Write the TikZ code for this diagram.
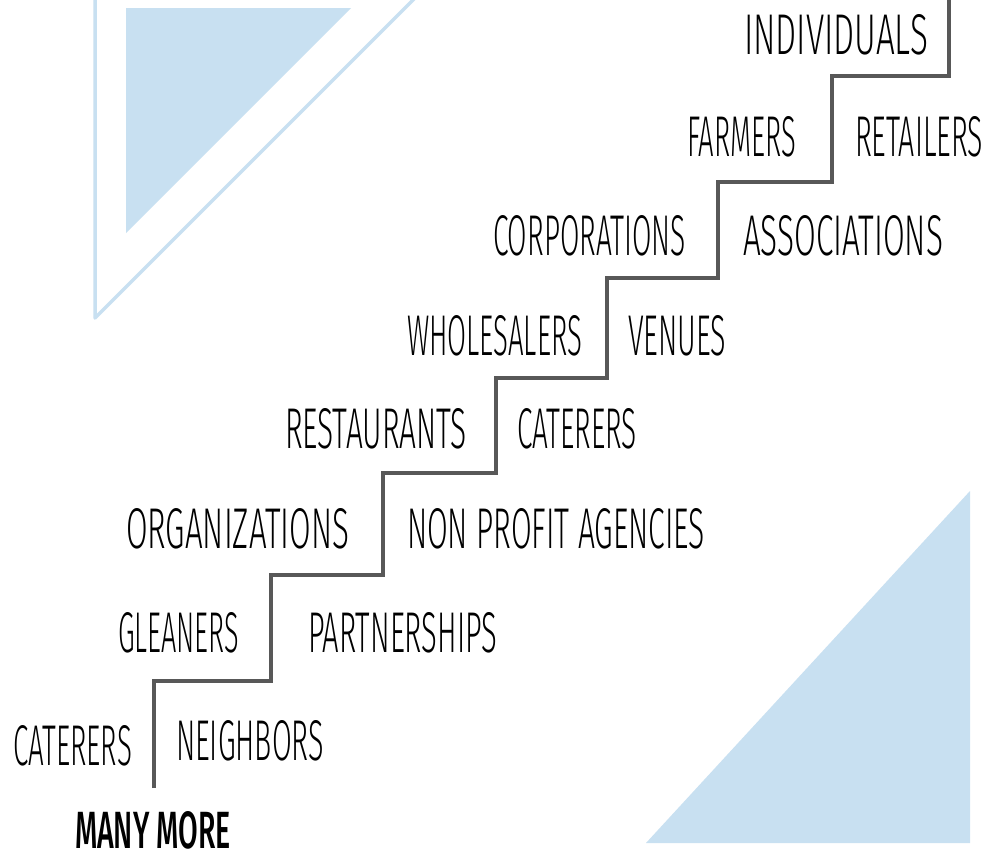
\documentclass[tikz,border=0pt]{standalone}
\usepackage{fontspec}
\setmainfont{Fira Sans Light}[BoldFont={Fira Sans Medium}]
\usepackage{graphicx}
\definecolor{lblue}{RGB}{200,224,241}
\definecolor{stairgray}{RGB}{88,88,88}
\newcommand\lbl[2]{\resizebox{#1pt}{40pt}{#2}}
\begin{document}
\begin{tikzpicture}[x=1pt,y=-1pt,
  word/.style={anchor=base west,inner sep=0pt,outer sep=0pt,text=black},
  stair/.style={draw=stairgray,line width=4.5pt,line join=miter},
  tri/.style={fill=lblue,draw=none},
  trioutline/.style={draw=lblue,line width=3.5pt,line join=round}]
\useasboundingbox (0,0) rectangle (989,862);
\clip (0,0) rectangle (989,862);
\fill[white] (0,0) rectangle (989,862);
% decorative triangles
\draw[trioutline] (95,-10) -- (95,318) -- (423,-10);
\path[tri] (126,8) -- (351,8) -- (126,233) -- cycle;
\path[tri] (970,491) -- (970,843) -- (646,843) -- cycle;
% staircase
\coordinate (s0) at (154,788);
\coordinate (s1) at (271,681);
\coordinate (s2) at (383,575);
\coordinate (s3) at (496,473);
\coordinate (s4) at (607,378);
\coordinate (s5) at (718,278);
\coordinate (s6) at (832,182);
\coordinate (s7) at (949,76);
\coordinate (s8) at (949,-5);
\draw[stair] (s0) |- (s1) |- (s2) |- (s3) |- (s4) |- (s5) |- (s6) |- (s7) -- (s8);
% labels
\node[word] (individuals) at (744,54) {\lbl{184}{INDIVIDUALS}};
\node[word] (farmers) at (687,156) {\lbl{109}{FARMERS}};
\node[word] (retailers) at (855,156) {\lbl{128}{RETAILERS}};
\node[word] (corporations) at (493,255) {\lbl{193}{CORPORATIONS}};
\node[word] (associations) at (743,255) {\lbl{200}{ASSOCIATIONS}};
\node[word] (wholesalers) at (407,355) {\lbl{175}{WHOLESALERS}};
\node[word] (venues) at (628,355) {\lbl{98}{VENUES}};
\node[word] (restaurants) at (285,448) {\lbl{182}{RESTAURANTS}};
\node[word] (caterersA) at (517,448) {\lbl{120}{CATERERS}};
\node[word] (organizations) at (126,548) {\lbl{223}{ORGANIZATIONS}};
\node[word] (nonprofit) at (407,548) {\lbl{298}{NON PROFIT AGENCIES}};
\node[word] (gleaners) at (118,652) {\lbl{121}{GLEANERS}};
\node[word] (partnerships) at (308,652) {\lbl{189}{PARTNERSHIPS}};
\node[word] (caterersB) at (13,765) {\lbl{119}{CATERERS}};
\node[word] (neighbors) at (176,760) {\lbl{148}{NEIGHBORS}};
\node[word] (manymore) at (75,848) {\resizebox{156pt}{37pt}{\bfseries MANY MORE}};
\end{tikzpicture}
\end{document}
